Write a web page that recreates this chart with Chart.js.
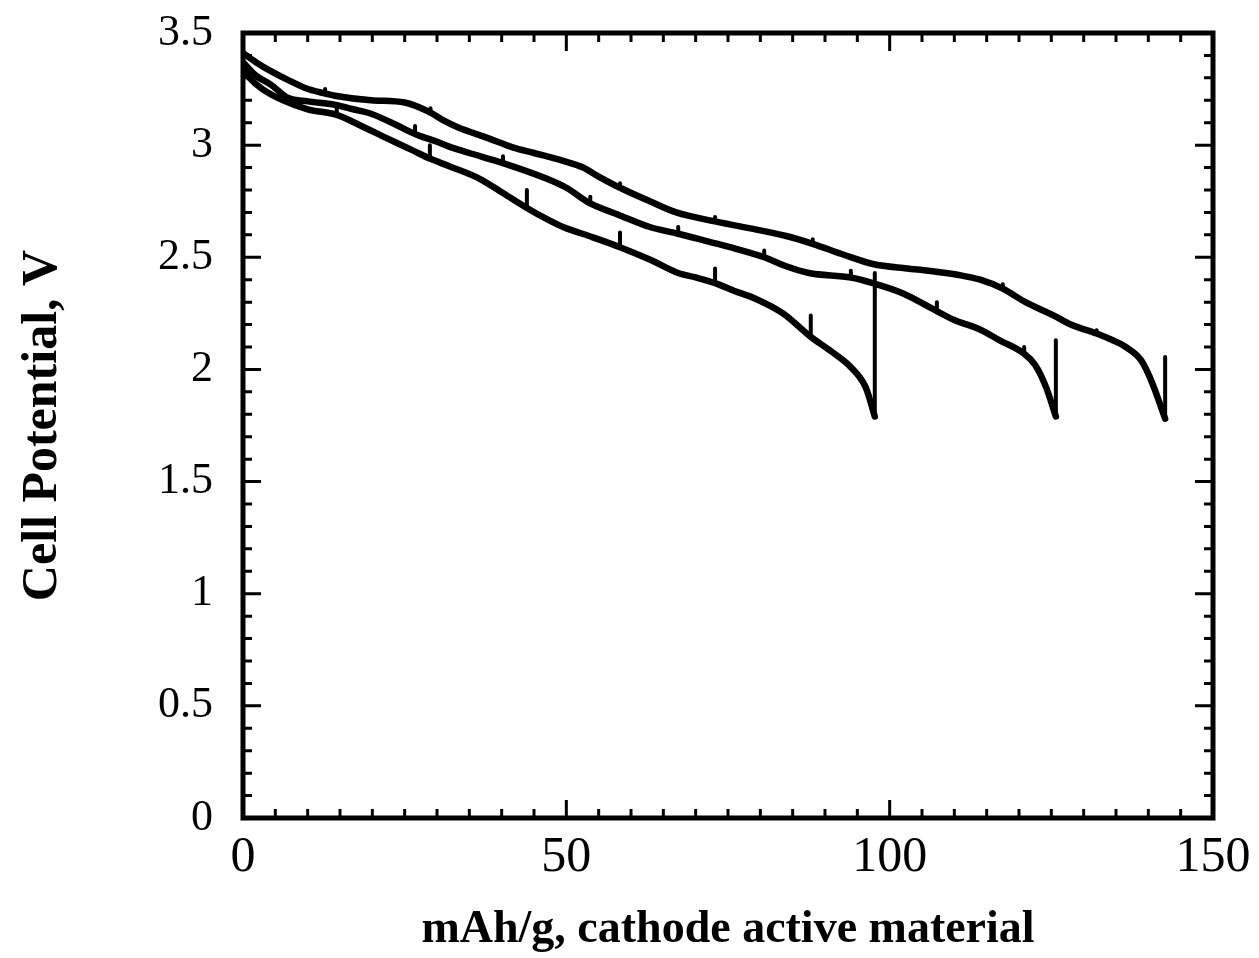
<!DOCTYPE html>
<html>
<head>
<meta charset="utf-8">
<script src="https://cdn.jsdelivr.net/npm/chart.js@4/dist/chart.umd.min.js"></script>
<style>
  html, body { margin: 0; padding: 0; background: #fff; }
  #wrap { width: 1259px; height: 958px; }
</style>
</head>
<body>
<div id="wrap"><canvas id="dischargeChart"></canvas></div>
<script>
// tick labels
const xTicks = [0, 50, 100, 150];
const xTickLabels = ['0', '50', '100', '150'];
const yTicks = [0, 0.5, 1, 1.5, 2, 2.5, 3, 3.5];
const yTickLabels = ['0', '0.5', '1', '1.5', '2', '2.5', '3', '3.5'];

// curve A - shortest run (ends near 98 mAh/g)
const xA = [0, 1, 3, 6.2, 10, 14.5, 18, 22.3, 26, 28.9, 32, 36.6, 40, 43.9, 47, 49.5, 54, 58.3, 62.9, 67.3, 70, 73, 76, 78.9, 83.5, 87.8, 91, 94, 96.3, 97.7];
const yA = [3.34, 3.30, 3.25, 3.20, 3.16, 3.135, 3.09, 3.03, 2.98, 2.94, 2.905, 2.85, 2.79, 2.72, 2.67, 2.635, 2.59, 2.545, 2.49, 2.43, 2.41, 2.385, 2.35, 2.32, 2.25, 2.145, 2.08, 2.01, 1.92, 1.79];
// interruption spikes on A: position, base, top
const spikeXA = [14.5, 28.9, 43.9, 58.3, 73, 87.8, 97.7];
const spikeLoA = [3.135, 2.94, 2.72, 2.545, 2.385, 2.145, 1.79];
const spikeHiA = [3.17, 3.0, 2.80, 2.61, 2.45, 2.24, 2.43];

// curve B - middle run (ends near 126 mAh/g)
const xB = [0, 2, 4.3, 7, 10, 14.2, 17, 19.8, 23, 26.6, 30, 32.2, 35, 40.2, 47, 50, 53.7, 58, 62.9, 67.3, 72, 76, 80.6, 84, 87.5, 94, 97.4, 102, 107.3, 110, 113.8, 117, 120.8, 122.5, 124.2, 125.7];
const yB = [3.37, 3.31, 3.27, 3.21, 3.195, 3.18, 3.16, 3.14, 3.10, 3.05, 3.015, 2.99, 2.965, 2.92, 2.85, 2.81, 2.74, 2.69, 2.635, 2.605, 2.57, 2.54, 2.50, 2.46, 2.43, 2.41, 2.385, 2.34, 2.26, 2.22, 2.18, 2.13, 2.07, 2.02, 1.92, 1.79];
const spikeXB = [26.6, 40.2, 53.7, 67.3, 80.6, 94, 107.3, 120.8, 125.7];
const spikeLoB = [3.05, 2.92, 2.74, 2.605, 2.50, 2.41, 2.26, 2.07, 1.79];
const spikeHiB = [3.085, 2.95, 2.77, 2.635, 2.53, 2.44, 2.30, 2.10, 2.13];

// curve C - longest run (ends near 143 mAh/g)
const xC = [0, 2, 4.3, 7, 9.6, 12.7, 14.2, 19.8, 25, 29, 31, 33.2, 38, 41.7, 45, 49.5, 52.6, 55, 58.3, 62.9, 67, 73, 80, 84, 88.1, 93, 97.4, 102.7, 106, 110.9, 114, 117.5, 121, 125.4, 128, 132, 134.5, 136.5, 138.9, 140.6, 142.6];
const yC = [3.41, 3.37, 3.33, 3.29, 3.255, 3.23, 3.22, 3.20, 3.19, 3.145, 3.11, 3.08, 3.03, 2.99, 2.965, 2.93, 2.90, 2.86, 2.81, 2.75, 2.70, 2.66, 2.62, 2.595, 2.56, 2.51, 2.47, 2.45, 2.44, 2.42, 2.40, 2.36, 2.30, 2.24, 2.20, 2.16, 2.13, 2.10, 2.04, 1.94, 1.78];
const spikeXC = [12.7, 29, 58.3, 73, 88.1, 117.5, 132, 142.6];
const spikeLoC = [3.23, 3.145, 2.81, 2.66, 2.56, 2.36, 2.16, 1.78];
const spikeHiC = [3.25, 3.165, 2.83, 2.68, 2.58, 2.38, 2.175, 2.055];

function pts(xs, ys) {
    return xs.map((v, i) => ({ x: v, y: ys[i] }));
}

function curve(xs, ys) {
    return {
        data: pts(xs, ys),
        showLine: true,
        borderColor: '#000',
        borderWidth: 6.5,
        borderJoinStyle: 'round',
        borderCapStyle: 'round',
        pointRadius: 0,
        cubicInterpolationMode: 'monotone'
    };
}

// short vertical segments, separated by gaps
function spikes(xs, lo, hi) {
    const data = [];
    xs.forEach((v, i) => {
        data.push({ x: v, y: lo[i] }, { x: v, y: hi[i] }, { x: v, y: null });
    });
    return {
        data: data,
        showLine: true,
        spanGaps: false,
        borderColor: '#000',
        borderWidth: 4,
        borderCapStyle: 'round',
        pointRadius: 0,
        tension: 0
    };
}

// inward ticks on all four sides + heavy frame
const frameTicks = {
    id: 'frameTicks',
    afterDatasetsDraw(chart) {
        const { ctx, chartArea: a, scales: { x, y } } = chart;
        ctx.save();
        ctx.strokeStyle = '#000';
        ctx.lineWidth = 3;
        ctx.beginPath();
        for (let v = 0; v <= 150; v += 5) {
            const px = x.getPixelForValue(v);
            const len = v % 50 === 0 ? 18 : 9;
            ctx.moveTo(px, a.bottom); ctx.lineTo(px, a.bottom - len);
            ctx.moveTo(px, a.top); ctx.lineTo(px, a.top + len);
        }
        for (let i = 0; i <= 35; i++) {
            const py = y.getPixelForValue(i / 10);
            const len = i % 5 === 0 ? 18 : 9;
            ctx.moveTo(a.left, py); ctx.lineTo(a.left + len, py);
            ctx.moveTo(a.right, py); ctx.lineTo(a.right - len, py);
        }
        ctx.stroke();
        ctx.lineWidth = 5;
        ctx.strokeRect(a.left, a.top, a.width, a.height);
        ctx.restore();
    }
};

const serif = "'Liberation Serif', 'Times New Roman', serif";

const ctx = document.getElementById('dischargeChart').getContext('2d');
new Chart(ctx, {
    type: 'scatter',
    data: {
        datasets: [
            curve(xA, yA), spikes(spikeXA, spikeLoA, spikeHiA),
            curve(xB, yB), spikes(spikeXB, spikeLoB, spikeHiB),
            curve(xC, yC), spikes(spikeXC, spikeLoC, spikeHiC)
        ]
    },
    options: {
        responsive: true,
        maintainAspectRatio: false,
        animation: false,
        layout: { padding: { top: 33, right: 46, left: 0, bottom: 0 } },
        plugins: { legend: { display: false }, tooltip: { enabled: false } },
        scales: {
            x: {
                type: 'linear',
                min: 0,
                max: 150,
                afterBuildTicks: s => { s.ticks = xTicks.map(v => ({ value: v })); },
                afterFit: s => { s.height = 140; s.paddingLeft = 0; s.paddingRight = 0; },
                grid: { display: false, drawTicks: false },
                border: { display: false },
                ticks: {
                    color: '#000',
                    font: { family: serif, size: 50 },
                    padding: 10,
                    maxRotation: 0,
                    callback: (v, i) => xTickLabels[i]
                },
                title: {
                    display: true,
                    text: 'mAh/g, cathode active material',
                    color: '#000',
                    font: { family: serif, size: 46, weight: 'bold' },
                    padding: { top: 0, bottom: 0 }
                }
            },
            y: {
                type: 'linear',
                min: 0,
                max: 3.5,
                afterBuildTicks: s => { s.ticks = yTicks.map(v => ({ value: v })); },
                afterFit: s => { s.width = 243; s.paddingTop = 0; s.paddingBottom = 0; },
                grid: { display: false, drawTicks: false },
                border: { display: false },
                ticks: {
                    color: '#000',
                    font: { family: serif, size: 44 },
                    padding: 30,
                    callback: (v, i) => yTickLabels[i]
                },
                title: {
                    display: true,
                    text: 'Cell Potential, V',
                    color: '#000',
                    font: { family: serif, size: 50, weight: 'bold' },
                    padding: { top: 13, bottom: 0 }
                }
            }
        }
    },
    plugins: [frameTicks]
});
</script>
</body>
</html>
